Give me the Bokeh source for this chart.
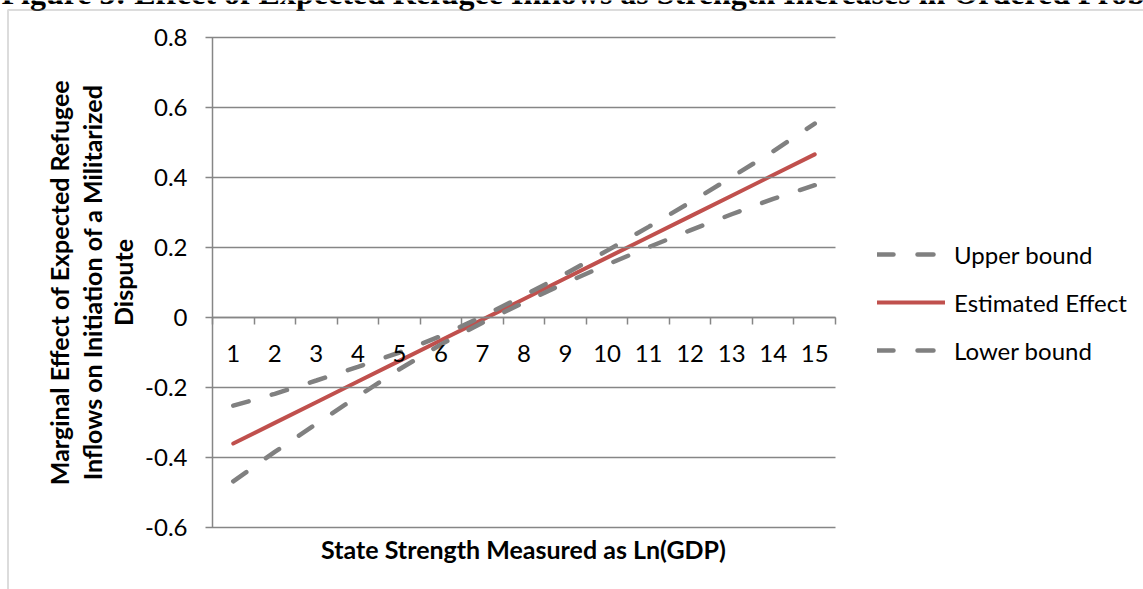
import math
from bokeh.plotting import figure
from bokeh.models import (FixedTicker, LinearAxis, Range1d, Label, Legend,
                          LegendItem, BoxAnnotation)
from bokeh.embed import file_html
from bokeh.resources import INLINE

# ---------------- data ----------------
categories = list(range(1, 16))
category_labels = [str(c) for c in categories]
estimated_effect = [-0.360, -0.301, -0.242, -0.183, -0.124, -0.065, -0.006,
                    0.053, 0.112, 0.171, 0.230, 0.289, 0.348, 0.407, 0.466]
upper_bound = [-0.252, -0.218, -0.180, -0.141, -0.100, -0.053, 0.003,
               0.063, 0.125, 0.191, 0.259, 0.329, 0.401, 0.475, 0.554]
lower_bound = [-0.468, -0.384, -0.304, -0.225, -0.148, -0.077, -0.015,
               0.043, 0.099, 0.151, 0.201, 0.249, 0.295, 0.339, 0.378]
y_ticks = [-0.6, -0.4, -0.2, 0, 0.2, 0.4, 0.6, 0.8]
y_tick_labels = ["-0.6", "-0.4", "-0.2", "0", "0.2", "0.4", "0.6", "0.8"]
series_names = ["Upper bound", "Estimated Effect", "Lower bound"]
title_text = "Figure 3: Effect of Expected Refugee Inflows as Strength Increases in Ordered Probit"
y_title_lines = ["Marginal Effect of Expected Refugee",
                 "Inflows on Initiation of a Militarized",
                 "Dispute"]
x_title = "State Strength Measured as Ln(GDP)"

# ---------------- layout (pixel anchors of the plot area) ----------------
W, H = 1143, 589
FL, FR, FT, FB = 212, 835, 37, 527          # plot-area box in canvas pixels
XMIN, XMAX = 0.5, 15.5
YMIN, YMAX = -0.6, 0.8
GRID = "#868686"
GRAY = "#808080"
RED = "#C0504D"
FONT = "Lato"


def dx(px):
    return XMIN + (px - FL) * (XMAX - XMIN) / (FR - FL)


def dy(py):
    return YMAX - (py - FT) * (YMAX - YMIN) / (FB - FT)


# the frame covers the whole canvas so nothing outside the plot area is clipped
p = figure(width=W, height=H, output_backend="svg", toolbar_location=None,
           x_range=Range1d(dx(0), dx(W)), y_range=Range1d(dy(H), dy(0)),
           x_axis_location=None, y_axis_location=None,
           min_border=0, min_border_left=0, min_border_right=0,
           min_border_top=0, min_border_bottom=0)
p.outline_line_color = None
p.background_fill_color = "white"
p.border_fill_color = "white"
p.xgrid.visible = False
p.ygrid.visible = False

# document title, only its lower edge shows at the very top
p.add_layout(Label(x=dx(1), y=dy(-8), text=title_text,
                   text_align="left", text_baseline="alphabetic",
                   text_font="Liberation Serif", text_font_style="bold",
                   text_font_size="32px", text_color="black"))

# outer chart border (continues past the right and bottom edges)
p.add_layout(BoxAnnotation(left=dx(7.5), top=dy(9.5), right=dx(W + 200), bottom=dy(H + 200),
                           fill_alpha=0, line_color="#8a8a8a", line_width=2))

# y axis at the left edge of the plot area; its long inward ticks form the gridlines
ya = LinearAxis(ticker=FixedTicker(ticks=y_ticks), fixed_location=XMIN,
                bounds=(YMIN, YMAX),
                major_label_overrides=dict(zip(y_ticks, y_tick_labels)),
                axis_line_color=GRID, axis_line_width=1.5,
                major_tick_line_color=GRID, major_tick_line_width=1.5,
                major_tick_out=7, major_tick_in=FR - FL,
                minor_tick_line_color=None,
                major_label_standoff=18,
                major_label_text_font=FONT,
                major_label_text_font_size="24px",
                major_label_text_color="black")
p.add_layout(ya, "left")

# x axis crossing at 0: category boundary ticks
xa_ticks = LinearAxis(ticker=FixedTicker(ticks=[c - 0.5 for c in categories] + [categories[-1] + 0.5]),
                      fixed_location=0, bounds=(XMIN, XMAX),
                      axis_line_color=GRID, axis_line_width=1.5,
                      major_tick_line_color=GRID, major_tick_line_width=1.5,
                      major_tick_out=7, major_tick_in=0,
                      minor_tick_line_color=None,
                      major_label_text_color=None)
p.add_layout(xa_ticks, "below")

# x axis category labels
xa_labels = LinearAxis(ticker=FixedTicker(ticks=categories),
                       fixed_location=0, bounds=(XMIN, XMAX),
                       axis_line_color=None,
                       major_tick_line_color=None, minor_tick_line_color=None,
                       major_tick_out=0, major_tick_in=0,
                       major_label_overrides=dict(zip(categories, category_labels)),
                       major_label_standoff=27,
                       major_label_text_font=FONT,
                       major_label_text_font_size="24px",
                       major_label_text_color="black")
p.add_layout(xa_labels, "below")

# series
r_est = p.line(categories, estimated_effect, line_color=RED, line_width=4, line_cap="round")
r_up = p.line(categories, upper_bound, line_color=GRAY, line_width=4.5,
              line_dash="16 24", line_cap="round")
r_lo = p.line(categories, lower_bound, line_color=GRAY, line_width=4.5,
              line_dash="16 24", line_cap="round")

legend = Legend(items=[LegendItem(label=series_names[0], renderers=[r_up]),
                       LegendItem(label=series_names[1], renderers=[r_est]),
                       LegendItem(label=series_names[2], renderers=[r_lo])],
                location=(877, H - 364.5),
                padding=0, margin=0, spacing=19,
                glyph_width=68, glyph_height=20, label_height=20,
                label_standoff=9,
                label_text_font=FONT, label_text_font_size="24px",
                label_text_color="black", label_text_baseline="middle",
                border_line_color=None, background_fill_alpha=0)
p.add_layout(legend)

# axis titles
ycenters = [58, 91, 122]
for line, cx in zip(y_title_lines, ycenters):
    p.add_layout(Label(x=dx(cx), y=dy(282), text=line, angle=math.pi / 2,
                       text_align="center", text_baseline="middle",
                       text_font=FONT, text_font_style="bold",
                       text_font_size="25px", text_color="black"))

p.add_layout(Label(x=dx(523), y=dy(548), text=x_title,
                   text_align="center", text_baseline="middle",
                   text_font=FONT, text_font_style="bold",
                   text_font_size="25px", text_color="black"))

open("out.html", "w").write(file_html(p, INLINE))
